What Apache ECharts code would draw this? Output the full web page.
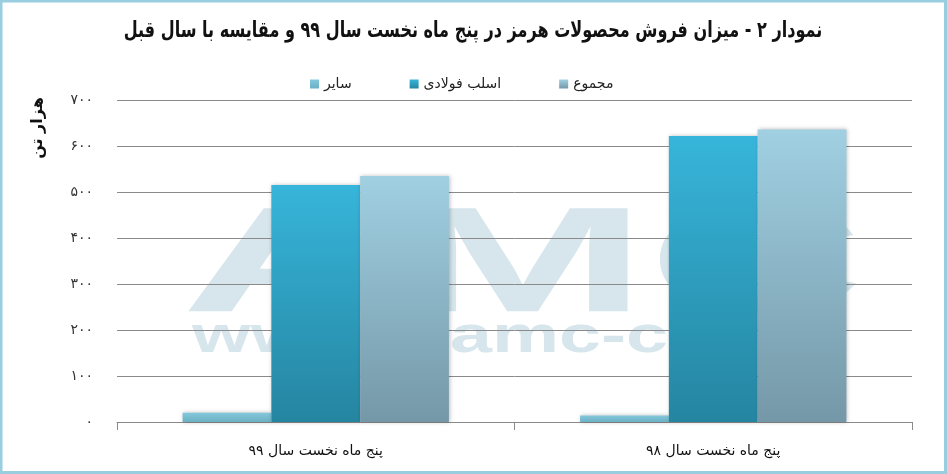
<!DOCTYPE html>
<html>
<head>
<meta charset="utf-8">
<script src="https://cdn.jsdelivr.net/npm/echarts@6/dist/echarts.min.js"></script>
<style>
html,body{margin:0;padding:0;background:#fff;}
#c{width:947px;height:474px;}
</style>
</head>
<body>
<div id="c"></div>
<script>
var titleText = 'نمودار ۲ - میزان فروش محصولات هرمز در پنج ماه نخست سال ۹۹ و مقایسه با سال قبل';
var categories = ['پنج ماه نخست سال ۹۹', 'پنج ماه نخست سال ۹۸'];
var seriesNames = ['سایر', 'اسلب فولادی', 'مجموع'];
var otherValues = [20, 14];
var slabValues = [515, 622];
var totalValues = [535, 636];
var yTickLabels = ['۰', '۱۰۰', '۲۰۰', '۳۰۰', '۴۰۰', '۵۰۰', '۶۰۰', '۷۰۰'];
var yAxisName = 'هزار تن';

function grad(top, bottom) {
  return new echarts.graphic.LinearGradient(0, 0, 0, 1, [
    {offset: 0, color: top}, {offset: 1, color: bottom}
  ]);
}
var shadow = {shadowBlur: 4, shadowColor: 'rgba(0,0,0,0.25)', shadowOffsetX: 1, shadowOffsetY: 0};
var wm = '#d6e6ec';

var chart = echarts.init(document.getElementById('c'));
chart.setOption({
  backgroundColor: '#fff',
  animation: false,
  legend: {
    data: seriesNames,
    top: 72,
    left: 305,
    itemWidth: 9,
    itemHeight: 9,
    itemGap: 58,
    icon: 'rect',
    textStyle: {fontFamily: 'DejaVu Sans', fontSize: 14, color: '#222'}
  },
  grid: {left: 117, right: 35, top: 100, bottom: 52},
  xAxis: {
    type: 'category',
    data: categories,
    axisLine: {lineStyle: {color: '#8a8a8a', width: 1}},
    axisTick: {show: true, length: 8, lineStyle: {color: '#8a8a8a'}},
    axisLabel: {margin: 22, fontFamily: 'DejaVu Sans', fontSize: 14, color: '#111'}
  },
  yAxis: {
    type: 'value',
    min: 0,
    max: 700,
    interval: 100,
    axisLine: {show: false},
    axisTick: {show: false},
    splitLine: {lineStyle: {color: '#8a8a8a', width: 1}},
    axisLabel: {
      margin: 24,
      fontFamily: 'DejaVu Sans',
      fontSize: 14,
      color: '#333',
      formatter: function (v) { return yTickLabels[Math.round(v / 100)]; }
    }
  },
  graphic: {
    elements: [
      {
        type: 'text', z: 10, x: 473, y: 31, scaleX: 0.73,
        style: {text: titleText, fill: '#111', font: 'bold 22px "DejaVu Sans"', align: 'center', verticalAlign: 'middle'}
      },
      {
        type: 'text', z: -10, left: 181, top: 195, scaleX: 2.0,
        style: {text: 'AMC', fill: wm, font: 'bold 150px "Liberation Sans"'}
      },
      {
        type: 'text', z: -10, left: 192, top: 312, scaleX: 1.45,
        style: {text: 'www.', fill: wm, font: 'bold 52px "Liberation Sans"'}
      },
      {
        type: 'text', z: -10, left: 450, top: 312, scaleX: 1.45,
        style: {text: 'amc-co.ir', fill: wm, font: 'bold 52px "Liberation Sans"'}
      },
      {
        type: 'text', z: 10, x: 38, y: 128, rotation: Math.PI / 2,
        style: {text: yAxisName, fill: '#111', font: 'bold 16px "DejaVu Sans"', align: 'center', verticalAlign: 'middle'}
      },
      {
        type: 'rect', z: 100, silent: true,
        shape: {x: 1, y: 1, width: 944.5, height: 471.5},
        style: {fill: 'none', stroke: '#99cde0', lineWidth: 3}
      }
    ]
  },
  series: [
    {
      name: seriesNames[0], type: 'bar', data: otherValues,
      barGap: '0%', barCategoryGap: '33%',
      itemStyle: Object.assign({color: grad('#84c8dc', '#6cb0c5')}, shadow)
    },
    {
      name: seriesNames[1], type: 'bar', data: slabValues,
      itemStyle: Object.assign({color: grad('#37b5da', '#2585a1')}, shadow)
    },
    {
      name: seriesNames[2], type: 'bar', data: totalValues,
      itemStyle: Object.assign({color: grad('#a0d0e2', '#7598a8')}, shadow)
    }
  ]
});
</script>
</body>
</html>
